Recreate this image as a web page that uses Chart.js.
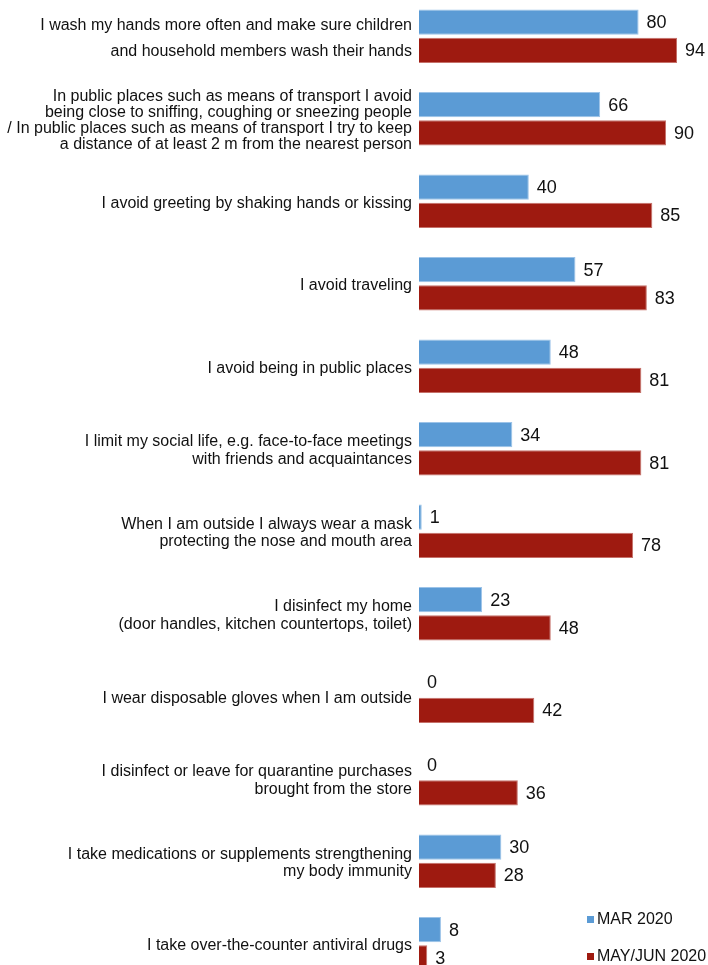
<!DOCTYPE html>
<html>
<head>
<meta charset="utf-8">
<script src="https://cdn.jsdelivr.net/npm/chart.js@4.4.1/dist/chart.umd.min.js"></script>
<style>
  html, body { margin: 0; padding: 0; background: #fff; overflow: hidden; }
  body { width: 708px; height: 965px; position: relative; }
  #wrap { position: absolute; left: 0; top: -5px; width: 708px; height: 990px; }
</style>
</head>
<body>
<div id="wrap"><canvas id="chart"></canvas></div>
<script>
'use strict';

/* ── Data ─────────────────────────────────────────────────────────── */
const CATEGORIES = [
  ['I wash my hands more often and make sure children', 'and household members wash their hands'],
  ['In public places such as means of transport I avoid', 'being close to sniffing, coughing or sneezing people',
   '/ In public places such as means of transport I try to keep', 'a distance of at least 2 m from the nearest person'],
  'I avoid greeting by shaking hands or kissing',
  'I avoid traveling',
  'I avoid being in public places',
  ['I limit my social life, e.g. face-to-face meetings', 'with friends and acquaintances'],
  ['When I am outside I always wear a mask', 'protecting the nose and mouth area'],
  ['I disinfect my home', '(door handles, kitchen countertops, toilet)'],
  'I wear disposable gloves when I am outside',
  ['I disinfect or leave for quarantine purchases', 'brought from the store'],
  ['I take medications or supplements strengthening', 'my body immunity'],
  'I take over-the-counter antiviral drugs',
];

const MAR_2020    = [80, 66, 40, 57, 48, 34, 1, 23, 0, 0, 30, 8];
const MAYJUN_2020 = [94, 90, 85, 83, 81, 81, 78, 48, 42, 36, 28, 3];

const SERIES_LABELS = ['MAR 2020', 'MAY/JUN 2020'];

/* ── Design tokens ────────────────────────────────────────────────── */
const C = {
  blue:       '#5b9bd5',
  blueEdge:   '#9cc3e8',
  red:        '#9e1a10',
  redEdge:    '#c5716a',
  text:       '#111111',
  font:       '"Liberation Sans", Arial, sans-serif',
};

/* ── Value labels at bar ends ─────────────────────────────────────── */
const valueLabels = {
  id: 'valueLabels',
  afterDatasetsDraw(chart) {
    const { ctx } = chart;
    ctx.save();
    ctx.font = `18px ${C.font}`;
    ctx.fillStyle = C.text;
    ctx.textAlign = 'left';
    ctx.textBaseline = 'middle';
    chart.data.datasets.forEach((ds, di) => {
      chart.getDatasetMeta(di).data.forEach((bar, i) => {
        ctx.fillText(String(ds.data[i]), bar.x + 8, bar.y + 1);
      });
    });
    ctx.restore();
  },
};

/* ── Vertical legend, bottom right ────────────────────────────────── */
const cornerLegend = {
  id: 'cornerLegend',
  afterDraw(chart) {
    const { ctx } = chart;
    const x = 587, ys = [925, 962];
    ctx.save();
    ctx.font = `16px ${C.font}`;
    ctx.textBaseline = 'middle';
    ctx.textAlign = 'left';
    chart.data.datasets.forEach((ds, i) => {
      ctx.fillStyle = ds.backgroundColor;
      ctx.fillRect(x, ys[i] - 4, 7, 7);
      ctx.fillStyle = C.text;
      ctx.fillText(ds.label, x + 10, ys[i]);
    });
    ctx.restore();
  },
};

new Chart(document.getElementById('chart'), {
  type: 'bar',
  data: {
    labels: CATEGORIES,
    datasets: [
      {
        label: SERIES_LABELS[0],
        data: MAR_2020,
        backgroundColor: C.blue,
        borderColor: C.blueEdge,
        borderWidth: 1,
      },
      {
        label: SERIES_LABELS[1],
        data: MAYJUN_2020,
        backgroundColor: C.red,
        borderColor: C.redEdge,
        borderWidth: 1,
      },
    ],
  },
  options: {
    indexAxis: 'y',
    responsive: true,
    maintainAspectRatio: false,
    animation: false,
    categoryPercentage: 0.68,
    barPercentage: 0.9,
    layout: { padding: { left: 0, right: 14.5, top: 0, bottom: 0 } },
    plugins: {
      legend: { display: false },
      tooltip: { enabled: false },
    },
    scales: {
      x: {
        display: false,
        min: 0,
        max: 100,
      },
      y: {
        grid:   { display: false, drawTicks: false },
        border: { display: false },
        ticks: {
          color: C.text,
          padding: 7,
          labelOffset: 2,
          // first label is spread so each line sits beside its bar,
          // the four-line one is set tight
          font: ctx => ({
            family: C.font,
            size: 16,
            lineHeight: ctx.index === 0 ? 1.62 : ctx.index === 1 ? 1.0 : 1.09,
          }),
        },
        afterFit(scale) {
          scale.width = 419;
          scale.paddingTop = 0;
          scale.paddingBottom = 0;
        },
      },
    },
  },
  plugins: [valueLabels, cornerLegend],
});
</script>
</body>
</html>
